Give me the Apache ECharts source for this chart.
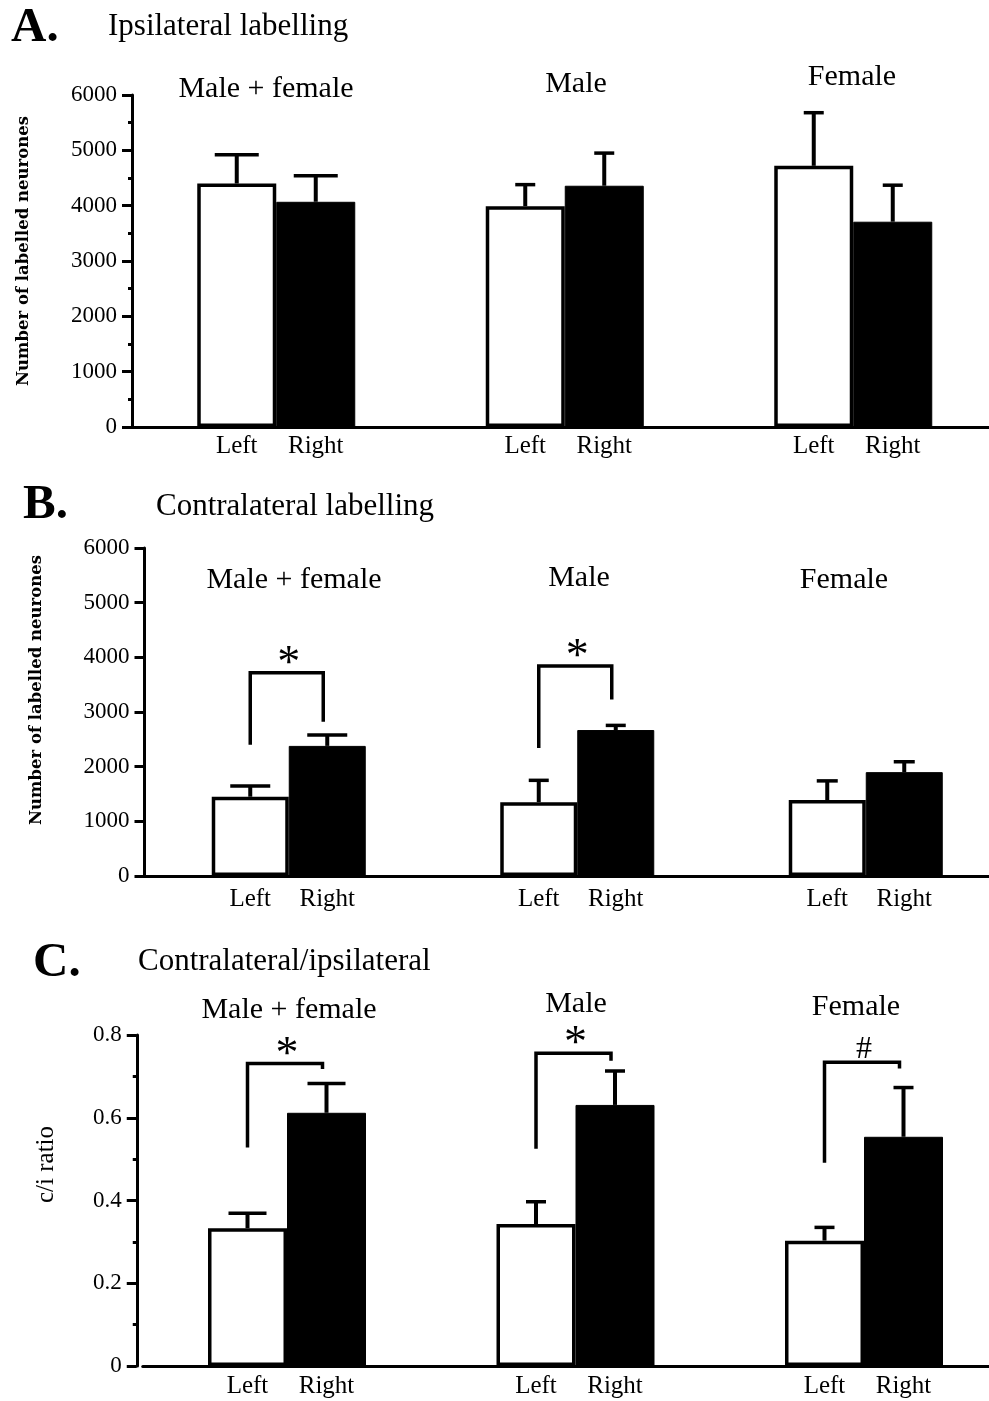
<!DOCTYPE html>
<html>
<head>
<meta charset="utf-8">
<script src="https://cdn.jsdelivr.net/npm/echarts@6/dist/echarts.min.js"></script>
<style>html,body{margin:0;padding:0;background:#fff;overflow:hidden}#c{width:989px;height:1401px}</style>
</head>
<body>
<div id="c"></div>
<script>
// ---------- data ----------
const groups = ['Male + female', 'Male', 'Female'];
const sideLabels = ['Left', 'Right'];

const ipsiLeft = [4400, 3990, 4720];
const ipsiLeftSem = [520, 390, 960];
const ipsiRight = [4070, 4360, 3710];
const ipsiRightSem = [470, 590, 660];

const contraLeft = [1450, 1350, 1390];
const contraLeftSem = [195, 400, 350];
const contraRight = [2380, 2670, 1900];
const contraRightSem = [200, 85, 190];

const ratioLeft = [0.333, 0.343, 0.303];
const ratioLeftSem = [0.036, 0.054, 0.032];
const ratioRight = [0.612, 0.631, 0.554];
const ratioRightSem = [0.071, 0.082, 0.119];

// significance brackets: group index, left leg end, bracket top, right leg end
const contraSigGroup = [0, 1];
const contraSigLeft = [2400, 2340];
const contraSigTop = [3720, 3840];
const contraSigRight = [2820, 3230];
const contraSigMark = ['*', '*'];

const ratioSigGroup = [0, 1, 2];
const ratioSigLeft = [0.528, 0.525, 0.491];
const ratioSigTop = [0.731, 0.756, 0.734];
const ratioSigRight = [0.718, 0.738, 0.719];
const ratioSigMark = ['*', '*', '#'];

const countTicks = [0, 1000, 2000, 3000, 4000, 5000, 6000];
const ratioTicks = [0, 0.2, 0.4, 0.6, 0.8];

const panelLetters = ['A.', 'B.', 'C.'];
const panelTitles = ['Ipsilateral labelling', 'Contralateral labelling', 'Contralateral/ipsilateral'];
const yNames = ['Number of labelled neurones', 'Number of labelled neurones', 'c/i ratio'];

// ---------- styles / layout ----------
const SERIF = '"Liberation Serif", "Times New Roman", serif';
const panels = [
  { grid: {left: 132, top: 95, width: 865.5, height: 332}, max: 6000, interval: 1000, minor: true, barW: 79, labelDist: 7,
    caps: [44, 20, 20], yOffset: 0, nameGap: 100, nameShift: 10, nameFont: 'DejaVu Serif', nameSize: 16.5, nameWeight: 'bold', tickSize: 23,
    left: ipsiLeft, leftSem: ipsiLeftSem, right: ipsiRight, rightSem: ipsiRightSem, sig: null,
    groupTitlePos: [[266, 89], [576, 84], [852, 77]] },
  { grid: {left: 144.5, top: 548, width: 865.5, height: 328}, max: 6000, interval: 1000, minor: false, barW: 77, labelDist: 11,
    caps: [40, 20, 21], yOffset: 0, nameGap: 99, nameShift: 22, nameFont: 'DejaVu Serif', nameSize: 16.5, nameWeight: 'bold', tickSize: 23,
    left: contraLeft, leftSem: contraLeftSem, right: contraRight, rightSem: contraRightSem,
    sig: {g: contraSigGroup, l: contraSigLeft, t: contraSigTop, r: contraSigRight, m: contraSigMark},
    groupTitlePos: [[294, 580], [579, 578], [844, 580]] },
  { grid: {left: 142.75, top: 1035, width: 865.5, height: 331}, max: 0.8, interval: 0.2, minor: true, barW: 79, labelDist: 8,
    caps: [38, 20, 20], yOffset: 6, nameGap: 78, nameShift: 36, nameFont: SERIF, nameSize: 25, nameWeight: 'normal', tickSize: 23,
    left: ratioLeft, leftSem: ratioLeftSem, right: ratioRight, rightSem: ratioRightSem,
    sig: {g: ratioSigGroup, l: ratioSigLeft, t: ratioSigTop, r: ratioSigRight, m: ratioSigMark},
    groupTitlePos: [[289, 1010], [576, 1004], [856, 1007]] }
];
const letterPos = [[11, 28], [23, 505], [33, 963]];
const titlePos = [[108, 27], [156, 507], [138, 962]];

const chart = echarts.init(document.getElementById('c'), null, {renderer: 'canvas'});

const grids = [], xAxes = [], yAxes = [], series = [], graphics = [];

function errRender(side, barW, caps) {
  return function (params, api) {
    const g = api.value(0), m = api.value(1), s = api.value(2);
    const base = api.coord([g, m]);
    const top = api.coord([g, m + s]);
    const x = base[0] + side * barW / 2;
    const cw = caps[g];
    return {
      type: 'group',
      children: [
        {type: 'line', shape: {x1: x, y1: base[1], x2: x, y2: top[1]}, style: {stroke: '#000', lineWidth: 4}},
        {type: 'line', shape: {x1: x - cw / 2, y1: top[1], x2: x + cw / 2, y2: top[1]}, style: {stroke: '#000', lineWidth: 3.5}}
      ]
    };
  };
}

function sigRender(barW, marks) {
  return function (params, api) {
    const g = api.value(0);
    const pL = api.coord([g, api.value(1)]);
    const pT = api.coord([g, api.value(2)]);
    const pR = api.coord([g, api.value(3)]);
    const xL = pL[0] - barW / 2;
    const xR = pL[0] + barW / 2 - 4;
    const mark = marks[params.dataIndex];
    return {
      type: 'group',
      children: [
        {type: 'polyline', shape: {points: [[xL, pL[1]], [xL, pT[1]], [xR, pT[1]], [xR, pR[1]]]},
          style: {stroke: '#000', lineWidth: 3.5, fill: null}},
        {type: 'text', x: (xL + xR) / 2 + 2, y: mark === '*' ? pT[1] - 8 : pT[1] - 13,
          style: {text: mark, fill: '#000', font: (mark === '*' ? '46px ' : '32px ') + SERIF,
            align: 'center', verticalAlign: 'middle'}}
      ]
    };
  };
}

panels.forEach((p, i) => {
  grids.push(Object.assign({containLabel: false, outerBoundsMode: 'none'}, p.grid));
  xAxes.push({
    type: 'category', gridIndex: i, data: groups,
    axisLine: {lineStyle: {color: '#000', width: 3}},
    axisTick: {show: false}, axisLabel: {show: false}, splitLine: {show: false}
  });
  yAxes.push({
    type: 'value', gridIndex: i, min: 0, max: p.max, interval: p.interval, offset: p.yOffset,
    name: yNames[i], nameLocation: 'middle', nameRotate: 90, nameGap: p.nameGap,
    nameTextStyle: {fontFamily: p.nameFont, fontSize: p.nameSize, fontWeight: p.nameWeight, color: '#000',
      padding: [0, 0, 0, p.nameShift * 2]},
    axisLine: {show: true, lineStyle: {color: '#000', width: 3}},
    axisTick: {show: true, length: 10, lineStyle: {color: '#000', width: 3}},
    minorTick: {show: p.minor, splitNumber: 2, length: 4, lineStyle: {color: '#000', width: 3}},
    splitLine: {show: false},
    axisLabel: {color: '#000', fontFamily: SERIF, fontSize: p.tickSize, margin: 15,
      formatter: v => String(v)}
  });
  series.push({
    type: 'bar', xAxisIndex: i, yAxisIndex: i, data: p.left, barWidth: p.barW, barGap: '0%',
    itemStyle: {color: '#fff', borderColor: '#000', borderWidth: 3.5},
    label: {show: true, position: 'bottom', distance: p.labelDist, formatter: sideLabels[0],
      color: '#000', fontFamily: SERIF, fontSize: 25},
    silent: true, z: 2
  });
  series.push({
    type: 'bar', xAxisIndex: i, yAxisIndex: i, data: p.right, barWidth: p.barW, barGap: '0%',
    itemStyle: {color: '#000', borderColor: '#000', borderWidth: 1},
    label: {show: true, position: 'bottom', distance: p.labelDist, formatter: sideLabels[1],
      color: '#000', fontFamily: SERIF, fontSize: 25},
    silent: true, z: 2
  });
  series.push({
    type: 'custom', xAxisIndex: i, yAxisIndex: i, renderItem: errRender(-1, p.barW, p.caps),
    data: p.left.map((v, k) => [k, v, p.leftSem[k]]), encode: {x: 0, y: 1}, z: 3, silent: true
  });
  series.push({
    type: 'custom', xAxisIndex: i, yAxisIndex: i, renderItem: errRender(1, p.barW, p.caps),
    data: p.right.map((v, k) => [k, v, p.rightSem[k]]), encode: {x: 0, y: 1}, z: 3, silent: true
  });
  if (p.sig) {
    series.push({
      type: 'custom', xAxisIndex: i, yAxisIndex: i, renderItem: sigRender(p.barW, p.sig.m),
      data: p.sig.g.map((g, k) => [g, p.sig.l[k], p.sig.t[k], p.sig.r[k]]), encode: {x: 0, y: [1, 2, 3]}, z: 4, silent: true
    });
  }
  graphics.push({type: 'text', x: letterPos[i][0], y: letterPos[i][1],
    style: {text: panelLetters[i], font: 'bold 49px ' + SERIF, fill: '#000', align: 'left', verticalAlign: 'middle'}});
  graphics.push({type: 'text', x: titlePos[i][0], y: titlePos[i][1],
    style: {text: panelTitles[i], font: '31px ' + SERIF, fill: '#000', align: 'left', verticalAlign: 'middle'}});
  groups.forEach((gname, k) => {
    graphics.push({type: 'text', x: p.groupTitlePos[k][0], y: p.groupTitlePos[k][1],
      style: {text: gname, font: '30px ' + SERIF, fill: '#000', align: 'center', verticalAlign: 'middle'}});
  });
});

chart.setOption({
  animation: false,
  backgroundColor: '#fff',
  grid: grids, xAxis: xAxes, yAxis: yAxes, series: series, graphic: graphics
});
</script>
</body>
</html>
